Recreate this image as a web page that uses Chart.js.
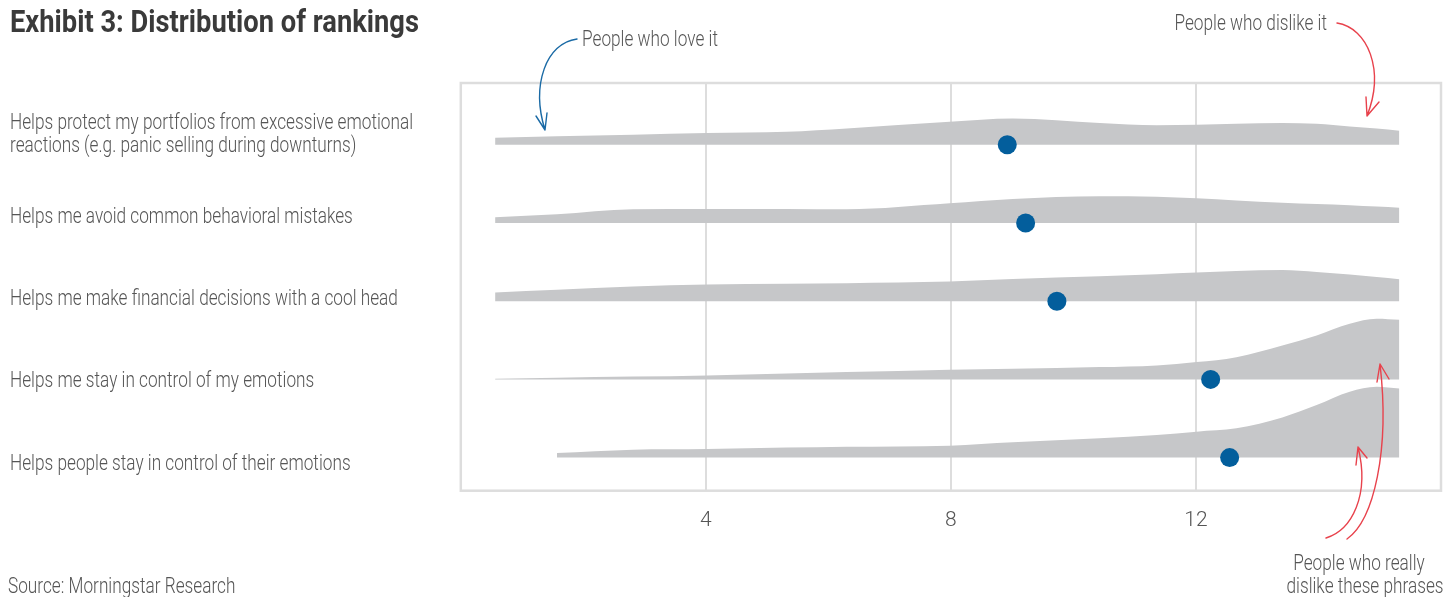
<!DOCTYPE html>
<html>
<head>
<meta charset="utf-8">
<script src="https://cdn.jsdelivr.net/npm/chart.js@4.4.1/dist/chart.umd.min.js"></script>
<style>
  html, body { margin: 0; padding: 0; background: #ffffff; }
  #wrap { width: 1444px; height: 597px; position: relative; }
</style>
</head>
<body>
<div id="wrap"><canvas id="chart" width="1444" height="597"></canvas></div>
<script>
// Statements that respondents ranked (1 = love it, 15 = dislike it)
const categories = [
  ['Helps protect my portfolios from excessive emotional', 'reactions (e.g. panic selling during downturns)'],
  'Helps me avoid common behavioral mistakes',
  'Helps me make financial decisions with a cool head',
  'Helps me stay in control of my emotions',
  'Helps people stay in control of their emotions'
];

// Rank positions where each ranking density is sampled
const rankGrid = [0.56, 1.57, 2.81, 4.02, 5.32, 6.30, 7.98, 9.01, 10.43, 11.36, 12.01, 12.66, 13.41, 13.97, 14.51, 14.95, 15.32];

// Density of rankings per statement (height relative to the row spacing)
const densityProtect  = [0.089, 0.107, 0.129, 0.149, 0.166, 0.208, 0.293, 0.335, 0.277, 0.249, 0.255, 0.268, 0.277, 0.268, 0.233, 0.208, 0.179];
const densityAvoid    = [0.073, 0.110, 0.175, 0.179, 0.179, 0.175, 0.251, 0.306, 0.341, 0.335, 0.315, 0.287, 0.259, 0.242, 0.227, 0.210, 0.195];
const densityCoolHead = [0.111, 0.145, 0.188, 0.213, 0.222, 0.230, 0.251, 0.284, 0.319, 0.344, 0.366, 0.386, 0.399, 0.374, 0.341, 0.310, 0.281];
const densityMyEmo    = [0.009, 0.022, 0.036, 0.051, 0.075, 0.093, 0.124, 0.136, 0.157, 0.179, 0.221, 0.284, 0.434, 0.561, 0.710, 0.774, 0.761];
const densityPeople   = [null,  0.060, 0.102, 0.111, 0.128, 0.139, 0.153, 0.195, 0.246, 0.290, 0.332, 0.374, 0.514, 0.672, 0.842, 0.906, 0.884];

// Average rank per statement
const meanRank = [8.92, 9.22, 9.73, 12.24, 12.55];

// Rank axis tick labels
const rankTicks = [4, 8, 12];

const densities = [densityProtect, densityAvoid, densityCoolHead, densityMyEmo, densityPeople];

const FONT = 'Roboto, "Liberation Sans", sans-serif';
const TEXT = '#555555';
const RIDGE = '#c6c7c9';
const DOT = '#035e9c';
const GRID = '#dddddd';
const BLUE = '#1a6aa5';
const RED = '#e8424c';
const BODY_FONT = '300 22px ' + FONT;
const TITLE_FONT = 'bold 31px ' + FONT;

// One filled ridge per statement, baseline at its row index
const ridgeSets = densities.map((dens, row) => ({
  type: 'line',
  label: 'ridge ' + row,
  data: rankGrid.map((x, i) => dens[i] == null ? null : { x: x, y: row - dens[i] }).filter(p => p),
  yAxisID: 'y',
  borderWidth: 0,
  borderColor: 'rgba(0,0,0,0)',
  backgroundColor: RIDGE,
  pointRadius: 0,
  fill: { value: row },
  cubicInterpolationMode: 'monotone',
  order: 2
}));

const meanSet = {
  type: 'scatter',
  label: 'mean rank',
  data: meanRank.map((x, row) => ({ x: x, y: row })),
  yAxisID: 'y',
  pointRadius: 9.5,
  pointHoverRadius: 9.5,
  pointBackgroundColor: DOT,
  pointBorderWidth: 0,
  order: 0
};

// Condensed text: the installed faces are wide, so squeeze them horizontally
function condensedText(ctx, text, x, y, align, sx) {
  ctx.save();
  ctx.translate(x, y);
  ctx.scale(sx, 1);
  ctx.textAlign = align;
  ctx.fillText(text, 0, 0);
  ctx.restore();
}

// Frame, statement labels, title, source and the callout notes
const decor = {
  id: 'decor',
  beforeDatasetsDraw(chart) {
    const { ctx, chartArea: a } = chart;
    ctx.save();
    ctx.strokeStyle = GRID;
    ctx.lineWidth = 2.5;
    ctx.strokeRect(a.left, a.top, a.right - a.left, a.bottom - a.top);
    ctx.restore();
  },
  afterDraw(chart) {
    const { ctx } = chart;
    const rows = chart.scales.rows;
    ctx.save();

    ctx.font = TITLE_FONT;
    const tsx = 409 / ctx.measureText('Exhibit 3: Distribution of rankings').width;
    ctx.fillStyle = '#3a3a3a';
    ctx.textBaseline = 'alphabetic';
    condensedText(ctx, 'Exhibit 3: Distribution of rankings', 10, 32, 'left', tsx);

    ctx.font = BODY_FONT;
    const sx = 403 / ctx.measureText(categories[0][0]).width;
    ctx.fillStyle = TEXT;
    ctx.textBaseline = 'middle';
    const lineGap = 23.4;
    categories.forEach((label, i) => {
      const lines = Array.isArray(label) ? label : [label];
      const yc = rows.getPixelForValue(i);
      lines.forEach((ln, j) => {
        const y = yc + (j - (lines.length - 1) / 2) * lineGap;
        condensedText(ctx, ln, 10, y, 'left', sx);
      });
    });

    condensedText(ctx, 'Source: Morningstar Research', 8, 587, 'left', sx);
    condensedText(ctx, 'People who love it', 582, 40, 'left', sx);
    condensedText(ctx, 'People who dislike it', 1327, 24, 'right', sx);
    condensedText(ctx, 'People who really', 1359, 564, 'center', sx);
    condensedText(ctx, 'dislike these phrases', 1365, 587, 'center', sx);

    ctx.lineWidth = 1.4;
    ctx.lineCap = 'round';
    ctx.lineJoin = 'round';
    // blue note arrow
    ctx.strokeStyle = BLUE;
    ctx.beginPath();
    ctx.moveTo(577, 39);
    ctx.bezierCurveTo(546, 43, 531, 85, 545, 130);
    ctx.moveTo(536, 116); ctx.lineTo(545, 130); ctx.lineTo(547, 113);
    ctx.stroke();
    // red arrows
    ctx.strokeStyle = RED;
    ctx.beginPath();
    ctx.moveTo(1337, 23);
    ctx.bezierCurveTo(1368, 28, 1385, 70, 1367, 116);
    ctx.moveTo(1366, 97); ctx.lineTo(1367, 116); ctx.lineTo(1379, 102);
    ctx.moveTo(1326, 538);
    ctx.bezierCurveTo(1352, 530, 1370, 495, 1358, 447);
    ctx.moveTo(1356, 465); ctx.lineTo(1358, 447); ctx.lineTo(1367, 458);
    ctx.moveTo(1347, 539);
    ctx.bezierCurveTo(1374, 520, 1390, 450, 1380, 364);
    ctx.moveTo(1377, 382); ctx.lineTo(1380, 364); ctx.lineTo(1389, 379);
    ctx.stroke();
    ctx.restore();
  }
};

new Chart(document.getElementById('chart'), {
  data: { datasets: [meanSet, ...ridgeSets] },
  options: {
    responsive: false,
    animation: false,
    events: [],
    layout: { autoPadding: false, padding: { left: 10, top: 83, right: 3, bottom: 0 } },
    plugins: { legend: { display: false }, tooltip: { enabled: false }, title: { display: false } },
    scales: {
      x: {
        type: 'linear',
        min: 0,
        max: 16,
        afterBuildTicks(scale) { scale.ticks = rankTicks.map(v => ({ value: v })); },
        afterFit(scale) { scale.height = 106.3; scale.paddingLeft = 0; scale.paddingRight = 0; },
        grid: { color: GRID, lineWidth: 2, drawTicks: false },
        border: { display: false },
        ticks: { color: TEXT, font: { family: FONT, size: 21, weight: 300 }, padding: 17 }
      },
      y: {
        type: 'linear',
        display: false,
        reverse: true,
        min: -0.789,
        max: 4.423
      },
      rows: {
        type: 'linear',
        position: 'left',
        reverse: true,
        min: -0.628,
        max: 4.322,
        afterBuildTicks(scale) { scale.ticks = categories.map((c, i) => ({ value: i })); },
        afterFit(scale) { scale.width = 450.8; },
        grid: { display: false },
        border: { display: false },
        ticks: { display: false }
      }
    }
  },
  plugins: [decor]
});
</script>
</body>
</html>
